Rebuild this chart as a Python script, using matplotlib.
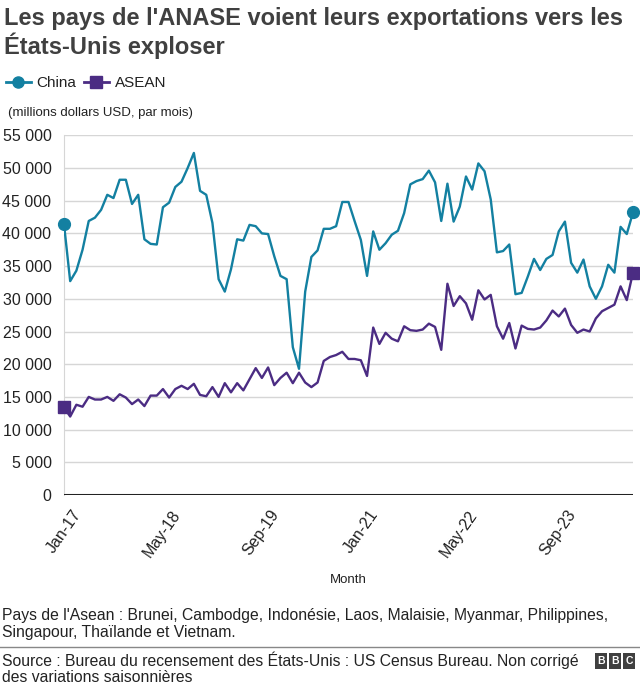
import pandas as pd
import matplotlib.pyplot as plt
from matplotlib.lines import Line2D
from matplotlib.transforms import ScaledTranslation
import numpy as np

plt.rcParams['font.family'] = ['Liberation Sans', 'DejaVu Sans']

# monthly values, millions USD, Jan 2017 .. Sep 2024
months = pd.date_range("2017-01-01", periods=93, freq="MS")

china = [41400, 32700, 34300, 37500, 41900, 42400, 43600, 45900, 45400, 48200, 48200, 44500,
         45900, 39100, 38400, 38300, 44000, 44700, 47100, 47900, 50000, 52300, 46500, 45900,
         41600, 33000, 31100, 34500, 39100, 38900, 41300, 41100, 40000, 39900, 36500, 33500,
         33000, 22600, 19300, 31100, 36400, 37400, 40700, 40700, 41100, 44800, 44800, 41850,
         39000, 33500, 40300, 37500, 38500, 39800, 40400, 43100, 47500, 48000, 48300, 49600,
         47800, 41900, 47600, 41800, 44100, 48700, 46700, 50700, 49500, 45200, 37100, 37300,
         38300, 30700, 30900, 33400, 36100, 34400, 36100, 36700, 40300, 41800, 35500, 34000,
         36000, 31900, 30000, 31900, 35200, 34000, 41000, 39900, 43200]

asean = [13400, 12000, 13800, 13500, 15000, 14600, 14600, 15000, 14400, 15400, 14900, 13900,
         14600, 13600, 15200, 15200, 16200, 14900, 16200, 16700, 16200, 17000, 15300, 15100,
         16500, 15000, 17100, 15700, 17100, 16000, 17700, 19400, 17900, 19500, 16800, 17900,
         18700, 17100, 18700, 17200, 16500, 17200, 20500, 21100, 21400, 21900, 20800, 20800,
         20600, 18200, 25600, 23100, 24800, 23900, 23500, 25800, 25200, 25100, 25300, 26200,
         25700, 22200, 32300, 28900, 30400, 29300, 26800, 31300, 29900, 30600, 25800, 23900,
         26300, 22400, 25900, 25400, 25300, 25600, 26700, 28200, 27300, 28500, 26000, 24800,
         25300, 25000, 27000, 28100, 28600, 29100, 31900, 29800, 34000]

yticks = list(range(0, 55001, 5000))

c_china = "#1380A1"
c_asean = "#4B2C83"
txt = "#222222"

fig = plt.figure(figsize=(6.4, 6.86), dpi=100)
ax = fig.add_axes([0.1, 0.2784, 0.889, 0.5244])

x = np.arange(len(months))
ax.plot(x, china, color=c_china, lw=1.7, zorder=3)
ax.plot(x, asean, color=c_asean, lw=1.7, zorder=3)
ax.plot([x[0], x[-1]], [china[0], china[-1]], 'o', color=c_china, ms=8.5, ls='none', zorder=4, clip_on=False)
ax.plot([x[0], x[-1]], [asean[0], asean[-1]], 's', color=c_asean, ms=8.5, ls='none', zorder=4, clip_on=False)

ax.set_xlim(0, len(months) - 1)
ax.set_ylim(0, 55000)
ax.set_yticks(yticks)
ax.set_yticklabels([f"{v:,}".replace(",", " ") for v in yticks])
ax.grid(axis='y', color='#d6d6d6', lw=1)
ax.set_axisbelow(True)
ax.axhline(0, color='#222222', lw=2.2, zorder=5)

tick_idx = x[::16]
ax.set_xticks(tick_idx)
ax.set_xticklabels([months[i].strftime("%b-%y") for i in tick_idx], rotation=55,
                   ha='right', va='top', rotation_mode='anchor')
ax.tick_params(axis='both', length=0, labelsize=11.5, colors=txt)
ax.tick_params(axis='y', pad=9)
ax.tick_params(axis='x', pad=9)
shift = ScaledTranslation(8 / 100, 0, fig.dpi_scale_trans)
for lab in ax.get_xticklabels():
    lab.set_transform(lab.get_transform() + shift)
ax.set_xlabel("Month", fontsize=9.5, color=txt, labelpad=10)

for s in ['top', 'right', 'bottom']:
    ax.spines[s].set_visible(False)
ax.spines['left'].set_color('#d6d6d6')

# title and annotations
fig.text(0.006, 0.99, "Les pays de l'ANASE voient leurs exportations vers les\nÉtats-Unis exploser",
         fontsize=17, fontweight='bold', color='#404040', va='top', ha='left', linespacing=1.12)
fig.text(0.0125, 1 - 113 / 686, "(millions dollars USD, par mois)", fontsize=9.5, color=txt, va='center')

handles = [Line2D([], [], color=c_china, marker='o', ms=8, lw=2),
           Line2D([], [], color=c_asean, marker='s', ms=8, lw=2)]
fig.legend(handles, ["China", "ASEAN"], loc='center left', bbox_to_anchor=(-0.012, 1 - 83 / 686),
           ncol=2, frameon=False, fontsize=11, handlelength=1.6, handletextpad=0.4,
           columnspacing=0.5, labelcolor=txt)

fig.text(0.003, 1 - 624 / 686, "Pays de l'Asean : Brunei, Cambodge, Indonésie, Laos, Malaisie, Myanmar, Philippines,\n"
         "Singapour, Thaïlande et Vietnam.", fontsize=11.3, color=txt, va='center', linespacing=1.1)
fig.add_artist(Line2D([0, 1], [1 - 647 / 686] * 2, color='#888888', lw=1))
fig.text(0.003, 1 - 668 / 686, "Source : Bureau du recensement des États-Unis : US Census Bureau. Non corrigé\n"
         "des variations saisonnières", fontsize=11.3, color=txt, va='center', linespacing=1.1)

# BBC block logo
for i, letter in enumerate("BBC"):
    fig.text((601 + i * 14) / 640, 1 - 661 / 686, letter, fontsize=7.5, fontweight='bold', color='white',
             ha='center', va='center',
             bbox=dict(boxstyle='square,pad=0.25', fc='#404040', ec='none'))

fig.savefig("out.png", dpi=100)
